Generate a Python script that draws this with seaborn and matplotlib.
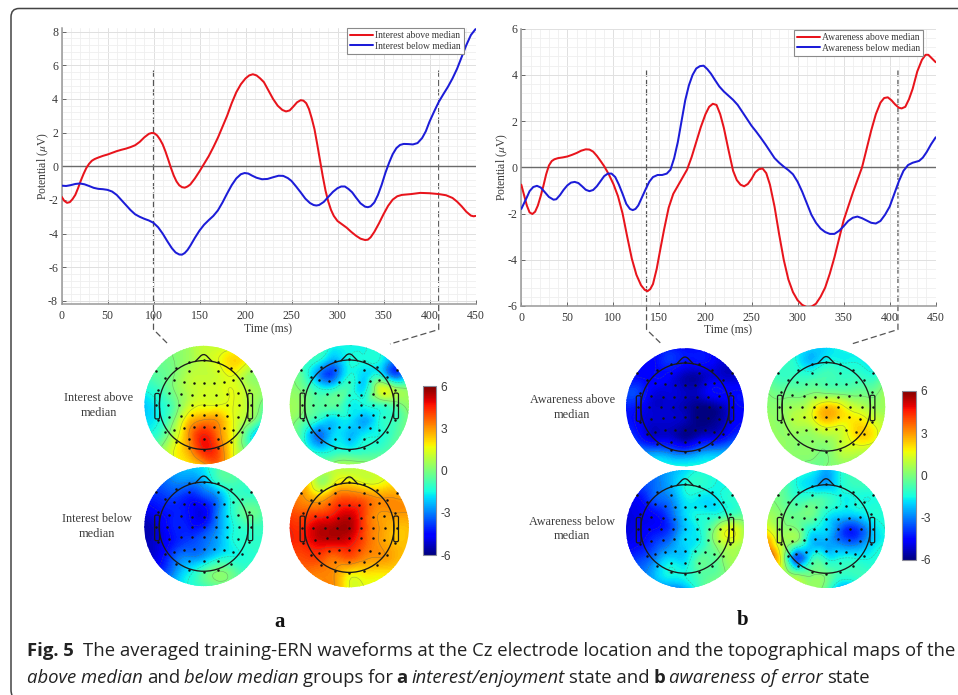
import numpy as np
import pandas as pd
import matplotlib
matplotlib.use('Agg')
import matplotlib.pyplot as plt
import matplotlib.tri as mtri
from matplotlib.patches import Circle, FancyBboxPatch, PathPatch
from matplotlib.path import Path
from matplotlib.ticker import MultipleLocator
import seaborn as sns

W, H = 958, 695

# waveforms
t_int_above = [0,3,6,9,12,15,18,21,24,27,30,33,36,40,45,50,55,60,65,70,75,80,85,90,95,98,101,104,107,110,113,116,119,122,125,128,131,134,137,140,145,150,155,160,165,170,175,180,185,190,195,200,204,208,212,216,220,225,230,235,240,244,248,252,256,260,263,266,269,272,275,278,281,284,287,290,293,296,300,305,310,315,320,325,330,333,336,340,345,350,355,360,365,370,380,390,400,410,418,425,430,435,440,445,448,450]
v_int_above = [-1.8,-2.05,-2.17,-2.13,-1.95,-1.7,-1.3,-.85,-.45,-.1,.15,.33,.43,.52,.62,.7,.8,.9,.98,1.05,1.14,1.25,1.45,1.72,1.93,1.98,1.96,1.83,1.6,1.3,.88,.4,-.1,-.55,-.9,-1.13,-1.24,-1.27,-1.2,-1.08,-.72,-.3,.15,.6,1.13,1.7,2.35,3.0,3.75,4.4,4.88,5.22,5.4,5.47,5.4,5.22,5.0,4.5,4.0,3.6,3.35,3.26,3.32,3.55,3.8,3.93,3.9,3.75,3.4,2.85,2.2,1.3,.35,-.6,-1.45,-2.1,-2.6,-2.95,-3.25,-3.45,-3.65,-3.9,-4.12,-4.3,-4.38,-4.36,-4.22,-3.9,-3.4,-2.85,-2.35,-1.98,-1.78,-1.7,-1.65,-1.58,-1.6,-1.65,-1.72,-1.88,-2.1,-2.38,-2.7,-2.93,-2.97,-2.95]
t_int_below = [0,5,10,15,20,25,30,35,40,45,50,55,60,65,70,75,80,85,90,95,100,105,110,115,120,124,128,131,134,137,140,145,150,155,160,165,170,175,180,185,190,195,199,203,207,212,218,224,230,236,241,246,250,255,260,265,270,274,277,280,285,290,295,300,304,308,312,316,320,325,330,333,336,340,344,348,352,356,360,364,368,372,377,382,387,392,396,400,405,410,415,420,425,430,435,440,445,450]
v_int_below = [-1.15,-1.17,-1.12,-1.05,-1.02,-1.07,-1.17,-1.28,-1.34,-1.36,-1.4,-1.5,-1.7,-2.0,-2.3,-2.6,-2.85,-3.0,-3.12,-3.22,-3.36,-3.62,-4.0,-4.45,-4.87,-5.12,-5.24,-5.25,-5.15,-4.97,-4.72,-4.25,-3.82,-3.47,-3.2,-2.95,-2.62,-2.15,-1.62,-1.12,-.72,-.47,-.4,-.43,-.55,-.68,-.77,-.75,-.65,-.56,-.57,-.7,-.87,-1.2,-1.55,-1.92,-2.18,-2.3,-2.33,-2.3,-2.12,-1.82,-1.52,-1.3,-1.2,-1.2,-1.35,-1.55,-1.85,-2.2,-2.4,-2.43,-2.38,-2.15,-1.7,-1.1,-.4,.2,.72,1.08,1.27,1.33,1.32,1.3,1.38,1.68,2.08,2.65,3.25,3.82,4.28,4.72,5.22,5.8,6.5,7.2,7.8,8.15]
t_aw_above = [0,3,6,9,12,15,18,21,24,27,30,33,36,40,45,50,55,60,65,70,74,78,82,86,90,95,100,105,110,115,120,125,130,134,137,140,143,147,150,155,160,165,170,175,180,185,190,195,200,204,208,212,216,220,225,230,234,238,242,246,250,254,258,262,266,270,275,280,285,290,295,300,305,310,315,320,325,330,335,340,345,350,355,360,365,370,375,380,385,390,394,398,402,406,410,413,417,421,425,430,435,439,442,445,450]
v_aw_above = [-.75,-1.2,-1.65,-1.95,-2.02,-1.92,-1.65,-1.25,-.8,-.3,.08,.27,.35,.4,.43,.47,.54,.62,.72,.78,.77,.68,.5,.28,.05,-.3,-.72,-1.25,-2.0,-3.0,-3.95,-4.65,-5.1,-5.3,-5.36,-5.27,-5.05,-4.4,-3.75,-2.7,-1.75,-1.15,-.8,-.45,-.1,.45,1.1,1.75,2.3,2.62,2.75,2.7,2.3,1.7,.75,-.15,-.55,-.75,-.82,-.72,-.5,-.22,-.08,-.05,-.25,-.75,-1.7,-2.9,-4.0,-4.85,-5.4,-5.75,-5.95,-6.05,-6.03,-5.9,-5.6,-5.2,-4.6,-3.9,-3.1,-2.3,-1.7,-1.1,-.55,0,.8,1.6,2.3,2.8,3.0,3.03,2.9,2.72,2.58,2.55,2.62,2.95,3.4,4.15,4.65,4.87,4.87,4.75,4.55]
t_aw_below = [0,3,6,9,13,17,21,25,30,35,38,42,46,50,54,58,62,66,70,74,78,82,86,90,94,98,102,106,110,114,118,121,124,127,131,135,139,143,148,153,158,162,166,170,174,178,182,186,190,194,198,202,206,210,215,220,225,230,235,240,245,250,255,260,265,270,275,280,285,290,295,300,305,310,315,320,325,330,335,340,345,350,355,360,365,370,375,380,385,390,395,400,405,410,415,420,425,432,436,440,445,450]
v_aw_below = [-1.8,-1.55,-1.3,-1.03,-.85,-.8,-.87,-1.05,-1.28,-1.4,-1.38,-1.2,-.97,-.78,-.66,-.63,-.68,-.82,-.97,-1.03,-.98,-.82,-.6,-.38,-.27,-.27,-.42,-.75,-1.15,-1.58,-1.8,-1.85,-1.8,-1.65,-1.3,-.95,-.62,-.42,-.33,-.33,-.27,-.1,.4,1.1,2.0,2.9,3.55,4.0,4.28,4.38,4.4,4.25,4.05,3.8,3.5,3.28,3.1,2.92,2.7,2.4,2.1,1.8,1.55,1.28,1.0,.7,.4,.2,.03,-.12,-.3,-.62,-1.05,-1.55,-2.05,-2.4,-2.65,-2.8,-2.88,-2.88,-2.75,-2.55,-2.32,-2.18,-2.13,-2.2,-2.3,-2.4,-2.43,-2.32,-2.05,-1.7,-1.15,-.6,-.15,.1,.2,.28,.42,.65,1.0,1.3]

# time of the two cuts marked on each chart
cuts_a = [100, 410]
cuts_b = [136, 409]

# scalp maps: values on a 9x9 grid, rows from top to bottom
map_int_above_1 = [[0,0,0,.5,1,1,1,1,.5],[-.5,-.3,0,.5,1,1.5,2.2,1.5,0],[-1,-.5,0,.8,1,1.2,1.5,.5,0],[-1.5,-1,0,.8,1.2,1.3,1.5,.8,.3],[-2.2,-1.5,-.5,1,1.5,1.5,1.5,.8,-.3],[-2,-1.5,0,2.2,3,2.8,1.5,.5,-1.2],[-1.5,-1,.8,3,4.5,3.3,1.5,-1,-3.2],[-.5,0,1.5,2.8,4.5,3.8,1.5,-.5,-2.5],[0,.5,1.5,2,2.8,3.5,1.5,0,-1]]
map_int_above_2 = [[-1,-1,-1,-1.5,-1.5,-1.5,-1.5,-2,-1.5],[-.5,-1,-1.5,-2.5,-1.5,-1.5,-1.5,-3,-2.5],[0,-1,-3,-3.5,-1.5,-2,-1.5,-3.5,-2],[.2,-.3,-1.3,-1.2,-1,-1.8,1,.6,0],[.5,0,-.6,-.5,-1.5,-1.5,-1,-.5,.3],[.3,-.5,-1.5,-2,-1.8,-2.5,-1.5,-1,0],[0,-1.5,-3.2,-2,-2.3,-1.8,-1.5,-.8,0],[.2,-1,-2,-1.5,-1.5,-1.2,-1,-.5,.2],[.3,0,-.5,.3,.5,.3,0,0,.3]]
map_int_below_1 = [[-3,-3,-2.5,-2.2,-1.8,-.8,-.5,-.8,-1],[-3.5,-3.5,-3,-3,-2.5,-1.2,-.8,-1,-1],[-4,-4,-3.8,-4.2,-3.8,-2.8,-1.2,-1,-1],[-5,-4.5,-4.2,-4.5,-4.8,-3,-1.2,-.3,-.8],[-5.5,-5,-4.2,-4.3,-4.2,-2.8,-1.5,-1,-1],[-5.5,-5,-4.3,-3.8,-3.3,-2.5,-1.5,-1.2,-1.2],[-5.3,-4.8,-3.6,-3,-2.7,-1.8,-1.5,-1.3,-1.3],[-4.5,-4.2,-3,-1.8,-.8,0,-.5,-1,-1.2],[-3.5,-3,-2.2,-1.5,-1,-.5,-.5,-1,-1]]
map_int_below_2 = [[2,2,1.5,1,.8,1.2,1.5,1.5,2],[2.5,2.5,.5,1.5,2,1.5,1.5,2,2.5],[3.5,3,2.5,3.5,3.8,3.5,3,3,3],[4,3.8,4,4.5,5,4,3,3,3],[4.5,4.5,5.3,5.5,5.5,4,3,2.5,2.5],[4.5,4.5,5,5,4.8,3.8,3,2.5,2.5],[4,4,4,3.5,3.8,3.2,3,2.7,2.3],[3.5,3.5,3.3,3,2,2,2,2,2],[3,3,3.2,3,1.5,1.5,1.5,1.5,1.5]]
map_aw_above_1 = [[-4.5,-4.5,-4.5,-4.3,-4.5,-4.5,-4.8,-5,-5],[-4.5,-4.5,-4.5,-4,-4.5,-4.5,-4.8,-5.2,-5.2],[-4.5,-4.5,-4.5,-4.8,-5.5,-5.5,-5,-5.2,-5.2],[-3.8,-4,-5,-5,-5.3,-5.2,-4.5,-4.5,-4.5],[-4.2,-4.6,-5.2,-5.2,-5.5,-6,-5.8,-5,-4.5],[-4.3,-4.8,-5.2,-5.2,-5.5,-6,-5.8,-5,-4.5],[-3.8,-4.5,-5.2,-5.2,-5.8,-5.3,-5,-4.3,-3.8],[-3,-3,-3,-3.3,-3.6,-3,-2.7,-2.5,-2.5],[-1.5,-1.5,-1.5,-1.5,-1.5,-1.5,-1.5,-1.5,-1.5]]
map_aw_above_2 = [[-1,-1,-1.5,-2,-2,-1.5,-1.5,-1.5,-1.5],[-1,-1,-1.5,-2.2,-1.5,-1.5,-1.5,-1.8,-1.5],[-.5,-1,-1,-1,-.8,-1,-1,-1.2,-.5],[0,-.3,-.3,-.1,-.2,-.3,-.3,-.3,.5],[.2,.2,.5,1.2,2.3,1.8,1,.5,.5],[.5,.3,.8,1.2,2.2,1.8,2,1.5,.8],[.5,.3,.3,.3,.6,1,2,2,.8],[.3,.3,.2,.2,0,.8,1,.8,.5],[0,0,.2,-.3,0,.2,.3,.3,.3]]
map_aw_below_1 = [[-3.5,-3.5,-3,-2.5,-2,-1.5,-1.5,-1.5,-1.5],[-4,-3.8,-3.2,-2.5,-1.5,-1.2,-1.5,-1.5,-1.5],[-4.5,-4.5,-3.5,-3,-1.8,-1.8,-1.8,-1.3,-1.3],[-5,-4.8,-4.5,-3.5,-2,-1.5,-1.5,-1,-.5],[-5,-4.8,-4.5,-3.8,-2.2,-1.5,0,1.5,.5],[-4.8,-4.5,-3.8,-3,-2,-1.5,0,1,.5],[-4.2,-3.8,-3,-2,-2,-.6,-.5,.5,0],[-3.5,-3.2,-2.3,-1.5,-1.5,-.7,-.5,.2,.2],[-3,-3,-3,-3,-2.5,-1,0,.3,.3]]
map_aw_below_2 = [[-1,-1,-1.5,-1.5,-2.5,-1.5,-1,-1,-1],[-.5,-.5,-1.5,-2,-2.5,-1.5,-1,-1,-1],[0,-.3,-1,-.8,-.9,-1.5,-1.5,-1.5,-1.5],[.5,0,-.3,-.2,-1.5,-2,-2,-1.5,-1.5],[1.5,.3,0,-1.5,-2,-3.5,-4,-2.5,-1.5],[3,.8,-.5,-2.2,-2.5,-3,-3.2,-2.2,-1.5],[3.5,1,-3.5,-1.5,-1.5,-1.5,-1.5,-1.5,-1.2],[2,1,-.3,-.2,-.3,-1,-1,-1,-1],[.8,.5,.3,.3,-.5,-2.5,-2,-.5,-.5]]

# electrode layout in map radii
elec_x = [-.81,-.24,.24,.80,-.47,-.24,0,.24,.46,-.65,-.50,-.34,-.17,0,.17,.34,.50,.64,-.77,-.58,-.38,-.19,0,.2,.39,.58,.77,-.8,-.61,-.41,-.2,0,.2,.4,.6,.8,-.77,-.58,-.38,-.19,0,.2,.39,.58,.77,-.65,-.50,-.34,-.17,0,.17,.34,.50,.64,-.47,-.24,0,.24,.46,-.24,0,.24]
elec_y = [.58,.58,.58,.58,.63,.73,.76,.73,.63,.46,.42,.39,.38,.38,.38,.39,.42,.46,.25,.2,.18,.17,.17,.17,.18,.2,.25,0,0,0,0,0,0,0,0,0,-.25,-.2,-.18,-.17,-.17,-.17,-.18,-.2,-.25,-.46,-.42,-.39,-.38,-.38,-.38,-.39,-.42,-.46,-.63,-.58,-.58,-.58,-.63,-.73,-.76,-.73]

grid_pos = np.linspace(-1, 1, 9)

sns.set_theme(style="ticks")
plt.rcParams['font.family'] = ['Liberation Serif', 'DejaVu Sans']
plt.rcParams['mathtext.fontset'] = 'stix'
plt.rcParams['axes.unicode_minus'] = False

fig = plt.figure(figsize=(W / 100, H / 100), dpi=100, facecolor='white')


def px_axes(left, top, right, bottom, **kw):
    return fig.add_axes([left / W, 1 - bottom / H, (right - left) / W, (bottom - top) / H], **kw)


TXT = '#3a3a3a'

# overlay in pixels for frame, maps and words
ov = px_axes(0, 0, W, H, zorder=0)
ov.set_xlim(0, W)
ov.set_ylim(H, 0)
ov.axis('off')


def wave_chart(box, ylim, t1, v1, t2, v2, names, legend_box, ylab_x):
    ax = px_axes(*box, zorder=2)
    ax.patch.set_alpha(0)
    df = pd.concat([
        pd.DataFrame({'t': t1, 'v': v1, 'group': names[0]}),
        pd.DataFrame({'t': t2, 'v': v2, 'group': names[1]}),
    ])
    ax.axhline(0, color='#6a6a6a', lw=1, zorder=1)
    sns.lineplot(data=df, x='t', y='v', hue='group', hue_order=names,
                 palette=['#e8141c', '#1c1cd8'], estimator=None, sort=False,
                 lw=1.45, ax=ax, zorder=3, clip_on=True)
    ax.set_xlim(0, 450)
    ax.set_ylim(*ylim)
    ax.xaxis.set_major_locator(MultipleLocator(50))
    ax.xaxis.set_minor_locator(MultipleLocator(10))
    ax.yaxis.set_major_locator(MultipleLocator(2))
    ax.yaxis.set_minor_locator(MultipleLocator(.4))
    ax.grid(which='major', color='#e0e0e0', lw=.7)
    ax.grid(which='minor', color='#efefef', lw=.6)
    ax.set_axisbelow(True)
    ax.tick_params(which='major', direction='in', length=3, width=.7, color='#666666',
                   labelsize=8.6, labelcolor=TXT)
    ax.tick_params(axis='x', which='major', pad=4)
    ax.tick_params(axis='y', which='major', pad=2.5)
    ax.tick_params(which='minor', length=0)
    sns.despine(ax=ax)
    for s in ['left', 'bottom']:
        ax.spines[s].set_color('#999999')
        ax.spines[s].set_linewidth(1.1)
    ax.set_xlabel('Time (ms)', fontsize=8.4, color=TXT, va='center')
    ax.set_ylabel(r'Potential ($\mu$V)', fontsize=8.4, color=TXT, va='center')
    ax.xaxis.set_label_coords(.5, -24.5 / (box[3] - box[1]))
    ax.yaxis.set_label_coords((ylab_x - box[0]) / (box[2] - box[0]), .5)
    h, l = ax.get_legend_handles_labels()
    leg = ax.legend(h, l, loc='upper left', fontsize=6.9, frameon=True, fancybox=False,
                    framealpha=1, edgecolor='#8a8a8a', handlelength=2.4, handletextpad=.25,
                    labelspacing=.2, borderpad=.3, borderaxespad=0,
                    bbox_to_anchor=((legend_box[0] - box[0]) / (box[2] - box[0]),
                                    1 - (legend_box[1] - box[1]) / (box[3] - box[1])))
    leg.get_frame().set_linewidth(.8)
    for tx in leg.get_texts():
        tx.set_color(TXT)
    return ax


ax_a = wave_chart((61.5, 28.3, 475.5, 304.3), (-8.2, 8.2), t_int_above, v_int_above, t_int_below, v_int_below,
                  ['Interest above median', 'Interest below median'], (347, 28), 43)
ax_b = wave_chart((521.3, 28.7, 935.7, 306), (-6, 6), t_aw_above, v_aw_above, t_aw_below, v_aw_below,
                  ['Awareness above median', 'Awareness below median'], (794, 30), 502)


def cut_lines(ax, cuts, ends):
    fig.canvas.draw()
    for cut, end in zip(cuts, ends):
        x = ax.transData.transform((cut, 0))[0]
        ov.plot([x, x, end], [70.5, 329.5, 344], color='#555555', lw=.9, ls=(0, (5, 2.5)), zorder=6, clip_on=False)


cut_lines(ax_a, cuts_a, [168, 390])
cut_lines(ax_b, cuts_b, [661.5, 851.5])


def scalp_map(values, cx, cy, r):
    gx, gy = np.meshgrid(grid_pos, grid_pos[::-1])
    tri = mtri.Triangulation(cx + r * gx.ravel(), cy - r * gy.ravel())
    z = np.array(values, dtype=float).ravel()
    fine, zf = mtri.UniformTriRefiner(tri).refine_field(z, subdiv=3)
    clip = Circle((cx, cy), r, transform=ov.transData, fc='none', ec='none')
    ov.add_patch(clip)
    cf = ov.tricontourf(fine, zf, levels=np.linspace(-6, 6, 121), cmap='jet', extend='both', zorder=2)
    cf.set_clip_path(clip)
    cl = ov.tricontour(fine, zf, levels=np.arange(-4.5, 4.6, 1.5), colors='#5a6a60', linewidths=.4, alpha=.5, zorder=3)
    cl.set_clip_path(clip)
    head = r * .75
    ov.add_patch(Circle((cx, cy), head, fc='none', ec='#1a1a1a', lw=.95, zorder=4))
    nose = Path([(cx - .147 * r, cy - .73 * r), (cx - .05 * r, cy - .83 * r), (cx, cy - .875 * r),
                 (cx + .05 * r, cy - .83 * r), (cx + .147 * r, cy - .73 * r)],
                [Path.MOVETO, Path.LINETO, Path.CURVE3, Path.CURVE3, Path.LINETO])
    ov.add_patch(PathPatch(nose, fc='none', ec='#1a1a1a', lw=.95, zorder=4))
    for side in (-1, 1):
        x0 = cx + side * .825 * r if side < 0 else cx + .745 * r
        ov.add_patch(FancyBboxPatch((x0 + 1.5, cy - .17 * r), .08 * r - 3, .38 * r,
                                    boxstyle='round,pad=1.5', fc='none', ec='#1a1a1a', lw=.9, zorder=4))
    ov.scatter(cx + r * np.array(elec_x), cy - r * np.array(elec_y), s=3.2, c='#111111', lw=0, zorder=5)


scalp_map(map_int_above_1, 203.7, 405, 59.2)
scalp_map(map_int_above_2, 349.3, 404.7, 59.6)
scalp_map(map_int_below_1, 203.7, 526.7, 59.4)
scalp_map(map_int_below_2, 349.3, 527.7, 59.6)
scalp_map(map_aw_above_1, 685, 407.3, 59)
scalp_map(map_aw_above_2, 826.2, 406.8, 59)
scalp_map(map_aw_below_1, 685, 529, 59)
scalp_map(map_aw_below_2, 826, 529, 59)


def color_bar(left, top, right, bottom):
    cax = px_axes(left, top, right, bottom, zorder=2)
    sm = plt.cm.ScalarMappable(cmap='jet', norm=plt.Normalize(-6, 6))
    cb = fig.colorbar(sm, cax=cax, ticks=[-6, -3, 0, 3, 6])
    cb.ax.tick_params(length=1.5, width=.5, color='#555555', direction='in', labelsize=8.6,
                      labelcolor=TXT, pad=3, labelfontfamily='Liberation Sans')
    cb.outline.set_edgecolor('#8a8a9a')
    cb.outline.set_linewidth(.8)


color_bar(423, 386.3, 436.3, 555)
color_bar(902.3, 390.7, 916, 560)

label_kw = dict(ha='center', va='center', color=TXT, fontsize=8.8, zorder=6)
ov.text(99, 397.7, 'Interest above', **label_kw)
ov.text(99, 412.7, 'median', **label_kw)
ov.text(97.3, 519, 'Interest below', **label_kw)
ov.text(97.3, 534, 'median', **label_kw)
ov.text(572.3, 400, 'Awareness above', **label_kw)
ov.text(572.3, 414.7, 'median', **label_kw)
ov.text(572.3, 521.7, 'Awareness below', **label_kw)
ov.text(572.3, 536, 'median', **label_kw)

ov.text(280, 622, 'a', ha='center', va='center', fontsize=15, fontweight='bold', color='#111111')
ov.text(742.3, 620, 'b', ha='center', va='center', fontsize=15, fontweight='bold', color='#111111')

# frame round the figure
frame = Path([(958, 8.5), (19, 8.5), (11, 8.5), (11, 17), (11, 690), (11, 693), (12, 695)],
             [Path.MOVETO, Path.LINETO, Path.CURVE3, Path.CURVE3, Path.LINETO, Path.CURVE3, Path.CURVE3])
ov.add_patch(PathPatch(frame, fc='none', ec='#444444', lw=1.1, clip_on=False))


def caption(x, y, segments, size=13.3):
    renderer = fig.canvas.get_renderer()
    for text, style, weight, gap in segments:
        t = ov.text(x, y, text, fontsize=size, family='Open Sans', style=style, weight=weight,
                    color='#222222', va='baseline', ha='left')
        x = t.get_window_extent(renderer).x1 + gap


caption(27, 656, [('Fig. 5', 'normal', 'bold', 9),
                  ('The averaged training-ERN waveforms at the Cz electrode location and the topographical maps of the',
                   'normal', 'normal', 0)])
caption(27, 683, [('above median', 'italic', 'normal', 4), ('and', 'normal', 'normal', 4),
                  ('below median', 'italic', 'normal', 4), ('groups for', 'normal', 'normal', 4),
                  ('a', 'normal', 'bold', 4), ('interest/enjoyment', 'italic', 'normal', 4),
                  ('state and', 'normal', 'normal', 4), ('b', 'normal', 'bold', 4),
                  ('awareness of error', 'italic', 'normal', 4), ('state', 'normal', 'normal', 0)])

fig.savefig('out.png', dpi=100, facecolor='white')
